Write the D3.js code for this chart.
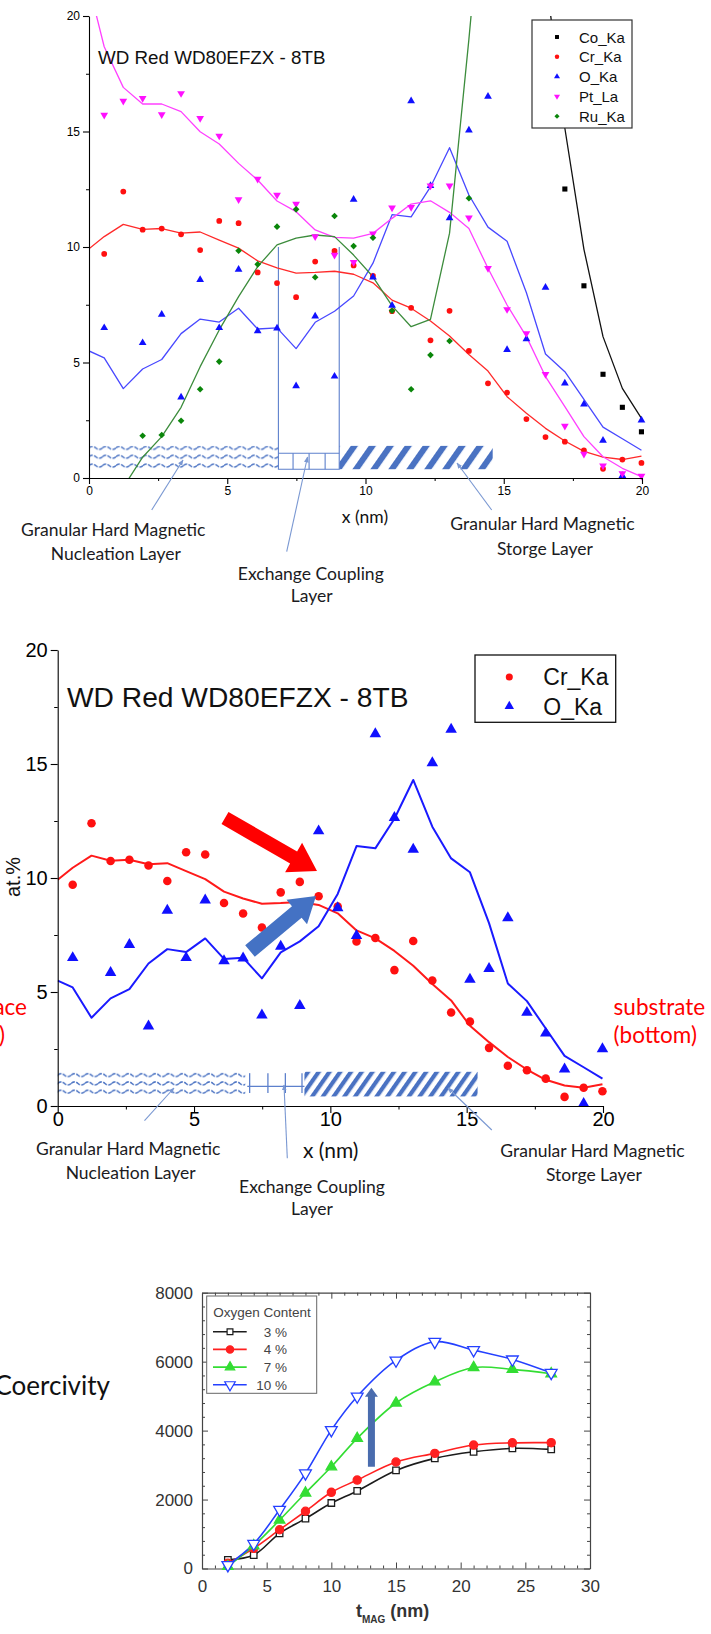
<!DOCTYPE html>
<html>
<head>
<meta charset="utf-8">
<script src="https://cdn.jsdelivr.net/npm/d3@7"></script>
<style>
  body { margin: 0; background: #fff; }
  svg { display: block; }
</style>
</head>
<body>
<svg id="fig" width="711" height="1634"></svg>
<script>
// ---- depth profile data (EDS line scan), shared by the two upper panels ----
const depth = [0.55, 1.24, 1.94, 2.63, 3.33, 4.02, 4.71, 5.41, 6.1, 6.8, 7.49, 8.18, 8.88, 9.57,
  10.27, 10.96, 11.65, 12.35, 13.04, 13.74, 14.43, 15.12, 15.82, 16.51, 17.21, 17.9, 18.59, 19.29, 19.98];
// fitted curves start at x = 0, then follow the sample positions
const fitDepth = [0, 0.55, 1.24, 1.94, 2.63, 3.33, 4.02, 4.71, 5.41, 6.1, 6.8, 7.49, 8.18, 8.88, 9.57,
  10.27, 10.96, 11.65, 12.35, 13.04, 13.74, 14.43, 15.12, 15.82, 16.51, 17.21, 17.9, 18.59, 19.29, 19.98];

const coPts = [null, null, null, null, null, null, null, null, null, null, null, null, null, null, null,
  null, null, null, null, null, null, null, null, null, 12.51, 8.32, 4.49, 3.06, 2.0];
const coFit = [null, null, null, null, null, null, null, null, null, null, null, null, null, null, null,
  null, null, null, null, null, null, null, null, null, 21.8, 15.14, 9.9, 6.12, 3.88, 2.58];

const crPts = [9.7, 12.4, 10.75, 10.8, 10.55, 9.87, 11.13, 11.03, 8.9, 8.44, 7.83, 9.37, 9.83, 9.2,
  8.75, 7.22, 7.37, 5.96, 7.24, 5.5, 4.1, 3.7, 2.55, 1.77, 1.57, 1.2, 0.4, 0.8, 0.65];
const crFit = [9.92, 10.45, 10.98, 10.76, 10.8, 10.6, 10.65, 10.3, 9.95, 9.4, 9.1, 8.87, 8.9, 8.95, 8.82,
  8.45, 7.7, 7.35, 6.8, 6.15, 5.35, 4.63, 3.52, 2.8, 2.15, 1.6, 1.15, 0.9, 0.8, 0.95];

const oPts = [6.5, null, 5.85, 7.08, 3.5, 8.58, 6.5, 9.03, 6.36, 6.48, 3.98, 7.0, 4.4, 12.06,
  8.69, 7.47, 16.32, 12.65, 11.25, 15.05, 16.52, 5.55, 6.02, 8.25, 4.1, 3.19, 1.62, 0.1, 2.5];
const oFit = [5.5, 5.2, 3.87, 4.72, 5.13, 6.25, 6.88, 6.75, 7.35, 6.45, 6.5, 5.6, 6.74, 7.22, 7.88,
  9.3, 11.4, 11.3, 12.6, 14.3, 12.25, 10.86, 10.25, 8.02, 5.37, 4.6, 3.4, 2.2, 1.7, 1.2];

const ptPts = [15.71, 16.32, 16.44, 15.74, 16.65, 15.57, 14.81, 12.06, 12.94, 12.25, 11.86, 10.45, 9.65, 9.34,
  10.57, 11.7, 11.72, 12.65, 12.65, 11.27, 9.08, 7.3, 6.26, 4.49, 2.25, 1.04, 0.53, 0.2, 0.09];
const ptFit = [21.3, 18.67, 16.91, 16.19, 16.19, 15.86, 14.99, 14.46, 13.62, 12.9, 11.99, 11.53, 10.74, 10.42, 10.38,
  10.59, 11.24, 11.86, 12.0, 11.5, 10.8, 9.08, 7.49, 6.12, 4.39, 3.09, 1.79, 0.92, 0.42, 0.06];

const ruPts = [null, null, 1.83, 1.86, 2.48, 3.84, 5.04, 9.84, 9.25, 10.88, 11.63, 8.69, 11.34, 10.04,
  10.4, 7.24, 3.84, 5.32, 5.93, 12.11, null, null, null, null, null, null, null, null, null];
const ruFit = [null, null, -0.4, 0.9, 1.79, 3.06, 4.82, 6.41, 7.85, 9.15, 10.09, 10.38, 10.52, 10.45, 9.65,
  8.71, 7.45, 6.55, 6.87, 10.6, 19.0, 28, null, null, null, null, null, null, null, null];

const depthTicks = [0, 5, 10, 15, 20];
const depthMinor = [2.5, 7.5, 12.5, 17.5];
const layerBounds1 = [0, 6.85, 9.05, 14.6];
const layerBounds2 = [0, 6.88, 9.05, 15.4];

// ---- coercivity vs magnetic layer thickness ----
const tmag = [2, 4, 6, 8, 10, 12, 15, 18, 21, 24, 27];
const hc3 = [250, 390, 1020, 1445, 1900, 2250, 2845, 3195, 3385, 3485, 3455];
const hc4 = [150, 585, 1125, 1660, 2210, 2565, 3090, 3340, 3580, 3645, 3650];
const hc7 = [60, 660, 1405, 2190, 2950, 3775, 4800, 5415, 5830, 5775, 5650];
const hc10 = [100, 715, 1705, 2760, 4015, 4990, 6035, 6575, 6335, 6065, 5675];
const oxygenLabels = ["3 %", "4 %", "7 %", "10 %"];
const hcTicksX = [0, 5, 10, 15, 20, 25, 30];
const hcTicksY = [0, 2000, 4000, 6000, 8000];

const SANS = "'Liberation Sans', Arial, sans-serif";
const CAL = "Lato, 'Open Sans', sans-serif";
const BAND = "#4a72c2";
const NOTE = "#7a98d2";

const svg = d3.select("#fig");
const defs = svg.append("defs");

defs.append("marker")
  .attr("id", "ah")
  .attr("viewBox", "0 0 10 10")
  .attr("refX", 9).attr("refY", 5)
  .attr("markerWidth", 6).attr("markerHeight", 6)
  .attr("markerUnits", "userSpaceOnUse")
  .attr("orient", "auto")
  .append("path").attr("d", "M0,1L10,5L0,9Z").attr("fill", NOTE);

function series(xs, vs) {
  return xs.map((x, i) => ({ x, v: vs[i] }));
}

function blockArrow(tail, tip, shaftW, headW, headL) {
  const dx = tip[0] - tail[0], dy = tip[1] - tail[1];
  const L = Math.hypot(dx, dy);
  const ux = dx / L, uy = dy / L, px = -uy, py = ux;
  const bx = tip[0] - ux * headL, by = tip[1] - uy * headL;
  const pts = [
    [tail[0] + px * shaftW / 2, tail[1] + py * shaftW / 2],
    [bx + px * shaftW / 2, by + py * shaftW / 2],
    [bx + px * headW / 2, by + py * headW / 2],
    tip,
    [bx - px * headW / 2, by - py * headW / 2],
    [bx - px * shaftW / 2, by - py * shaftW / 2],
    [tail[0] - px * shaftW / 2, tail[1] - py * shaftW / 2],
  ];
  return "M" + pts.map((p) => p.join(",")).join("L") + "Z";
}

function styleAxis(g, font, size, color) {
  g.attr("font-family", font).attr("font-size", size);
  g.selectAll("text").attr("fill", color);
  g.selectAll("line").attr("stroke", color);
  g.select(".domain").attr("stroke", color);
}

// patterns for the layer stack sketch
function layerPatterns(id, wave, hatch) {
  const w = defs.append("pattern")
    .attr("id", "wave" + id)
    .attr("patternUnits", "userSpaceOnUse")
    .attr("width", 13.5).attr("height", wave.gap)
    .attr("patternTransform", `translate(${wave.x},${wave.y})`);
  w.append("path")
    .attr("d", `M0,${wave.gap / 2} Q3.375,${wave.gap / 2 - 3} 6.75,${wave.gap / 2} T13.5,${wave.gap / 2}`)
    .attr("fill", "none").attr("stroke", BAND).attr("stroke-width", 1.5)
    .attr("stroke-dasharray", "4 1.5");
  const h = defs.append("pattern")
    .attr("id", "hatch" + id)
    .attr("patternUnits", "userSpaceOnUse")
    .attr("width", hatch.step).attr("height", 10)
    .attr("patternTransform", `translate(${hatch.x},0) rotate(35)`);
  h.append("rect").attr("width", hatch.thick).attr("height", 10).attr("fill", BAND);
}

function depthAxes(g, x, y, o) {
  const ya = g.append("g").attr("transform", `translate(${x(0)},0)`)
    .call(d3.axisLeft(y).tickValues(depthTicks).tickSize(o.tick).tickSizeOuter(0).tickPadding(o.padY));
  styleAxis(ya, SANS, o.font, "#000");
  const ym = g.append("g").attr("transform", `translate(${x(0)},0)`)
    .call(d3.axisLeft(y).tickValues(depthMinor).tickSize(o.tick / 2).tickFormat(() => ""));
  ym.select(".domain").remove();
  ym.selectAll("line").attr("stroke", "#000");
  const xa = g.append("g").attr("transform", `translate(0,${y(0)})`)
    .call(d3.axisBottom(x).tickValues(depthTicks).tickSize(o.tick).tickSizeOuter(0).tickPadding(o.padX));
  styleAxis(xa, SANS, o.font, "#000");
  const xm = g.append("g").attr("transform", `translate(0,${y(0)})`)
    .call(d3.axisBottom(x).tickValues(depthMinor).tickSize(o.tick / 2).tickFormat(() => ""));
  xm.select(".domain").remove();
  xm.selectAll("line").attr("stroke", "#000");
  [ya, xa].forEach((a) => a.selectAll(".domain, line").attr("stroke-width", 1.1));
}

function layerBands(g, x, y, b, top, bottom, id) {
  const yt = y(top), yb = y(bottom);
  g.append("rect").attr("x", x(b[0])).attr("y", yt)
    .attr("width", x(b[1]) - x(b[0])).attr("height", yb - yt).attr("fill", `url(#wave${id})`);
  g.append("rect").attr("x", x(b[2])).attr("y", yt)
    .attr("width", x(b[3]) - x(b[2])).attr("height", yb - yt).attr("fill", `url(#hatch${id})`);
}

function noteArrows(g, list) {
  list.forEach((a) => {
    g.append("line")
      .attr("x1", a.from[0]).attr("y1", a.from[1])
      .attr("x2", a.to[0]).attr("y2", a.to[1])
      .attr("stroke", NOTE).attr("stroke-width", 1.1)
      .attr("marker-end", "url(#ah)");
  });
}

function noteLabels(g, list, size) {
  list.forEach((t) => {
    g.append("text")
      .attr("x", t.x).attr("y", t.y)
      .attr("text-anchor", "middle")
      .attr("font-family", CAL).attr("font-size", size)
      .attr("fill", "#1b1b22")
      .text(t.text);
  });
}

function marks(g, x, y, pts, el, scale) {
  const sym = d3.symbol().type(el.symbol).size(el.size * scale);
  g.append("g").selectAll("path")
    .data(series(depth, pts).filter((d) => d.v != null))
    .join("path")
    .attr("d", sym)
    .attr("transform", (d) => `translate(${x(d.x)},${y(d.v)}) rotate(${el.rot || 0})`)
    .attr("fill", el.color);
}

function fitLine(g, x, y, fit, color, width, clipId) {
  const line = d3.line()
    .defined((d) => d.v != null)
    .x((d) => x(d.x)).y((d) => y(d.v));
  g.append("path")
    .datum(series(fitDepth, fit))
    .attr("d", line)
    .attr("fill", "none")
    .attr("stroke", color)
    .attr("stroke-width", width)
    .attr("stroke-linejoin", "round")
    .attr("clip-path", `url(#${clipId})`);
}

const elements = [
  { name: "Co_Ka", pts: coPts, fit: coFit, color: "#000", line: "#111", symbol: d3.symbolSquare, size: 26 },
  { name: "Cr_Ka", pts: crPts, fit: crFit, color: "#ff1010", line: "#ff2a2a", symbol: d3.symbolCircle, size: 26 },
  { name: "O_Ka", pts: oPts, fit: oFit, color: "#1010ff", line: "#4848ff", symbol: d3.symbolTriangle, size: 26 },
  { name: "Pt_La", pts: ptPts, fit: ptFit, color: "#ff10ff", line: "#ff40ff", symbol: d3.symbolTriangle, size: 26, rot: 180 },
  { name: "Ru_Ka", pts: ruPts, fit: ruFit, color: "#0a860a", line: "#3c8c3c", symbol: d3.symbolSquare, size: 22, rot: 45 },
];

// =================== panel 1: all elements ===================
{
  const x = d3.scaleLinear([0, 20], [89, 642]);
  const y = d3.scaleLinear([0, 20], [478, 16]);
  const g = svg.append("g");
  defs.append("clipPath").attr("id", "clip1").append("rect")
    .attr("x", x(0)).attr("y", y(20)).attr("width", x(20) - x(0)).attr("height", y(0) - y(20));

  layerPatterns(1, { x: 89, y: 443.5, gap: 8.85 }, { x: 340, step: 14.7, thick: 6 });
  layerBands(g, x, y, layerBounds1, 1.39, 0.38, 1);

  // exchange coupling layer outline
  const ex = g.append("g").attr("stroke", "#5d80cc").attr("stroke-width", 1.1).attr("fill", "none");
  const xl = x(layerBounds1[1]), xr = x(layerBounds1[2]);
  ex.append("path").attr("d", `M${xl},${y(10)}V${y(0.38)}H${xr}V${y(10)}`);
  ex.append("path").attr("d", `M${xl},${y(1.07)}H${xr}`);
  [7.38, 7.96, 8.54].forEach((v) =>
    ex.append("path").attr("d", `M${x(v)},${y(1.07)}V${y(0.38)}`));

  elements.forEach((el) => fitLine(g, x, y, el.fit, el.line, 1.3, "clip1"));
  elements.forEach((el) => marks(g, x, y, el.pts, el, 1));

  depthAxes(g, x, y, { tick: 6, font: 12, padY: 3, padX: 2.5 });

  g.append("text").attr("x", 365).attr("y", 523).attr("text-anchor", "middle")
    .attr("font-family", CAL).attr("font-size", 17.5).attr("fill", "#111").text("x (nm)");

  g.append("text").attr("x", 98).attr("y", 64)
    .attr("font-family", SANS).attr("font-size", 18.8).attr("fill", "#111")
    .text("WD Red WD80EFZX - 8TB");

  // legend
  const lg = g.append("g");
  lg.append("rect").attr("x", 532).attr("y", 20).attr("width", 100).attr("height", 108)
    .attr("fill", "#fff").attr("stroke", "#333").attr("stroke-width", 1.2);
  elements.forEach((el, i) => {
    const cy = 37 + i * 19.8;
    lg.append("path")
      .attr("d", d3.symbol().type(el.symbol).size(el.size * 0.6))
      .attr("transform", `translate(557,${cy}) rotate(${el.rot || 0})`)
      .attr("fill", el.color);
    lg.append("text").attr("x", 579).attr("y", cy + 5.5)
      .attr("font-family", SANS).attr("font-size", 15).attr("fill", "#111").text(el.name);
  });

  noteArrows(g, [
    { from: [151.7, 510], to: [183, 460] },
    { from: [286.7, 551.7], to: [307.5, 457] },
    { from: [491.7, 510], to: [457, 463] },
  ]);
  noteLabels(g, [
    { x: 113.3, y: 536, text: "Granular Hard Magnetic" },
    { x: 115.8, y: 560, text: "Nucleation Layer" },
    { x: 310.8, y: 580, text: "Exchange Coupling" },
    { x: 311.7, y: 602, text: "Layer" },
    { x: 542.5, y: 530, text: "Granular Hard Magnetic" },
    { x: 545, y: 555, text: "Storge Layer" },
  ], 17.5);
}

// =================== panel 2: Cr and O only ===================
{
  const x = d3.scaleLinear([0, 20], [57.7, 603]);
  const y = d3.scaleLinear([0, 20], [1106, 650]);
  const g = svg.append("g");
  defs.append("clipPath").attr("id", "clip2").append("rect")
    .attr("x", x(0)).attr("y", y(20)).attr("width", x(20) - x(0)).attr("height", y(0) - y(20));

  layerPatterns(2, { x: 57.7, y: 1071, gap: 8.3 }, { x: 304, step: 8.8, thick: 4.2 });
  layerBands(g, x, y, layerBounds2, 1.5, 0.42, 2);

  const ex = g.append("g").attr("stroke", "#5d80cc").attr("stroke-width", 1.3).attr("fill", "none");
  ex.append("path").attr("d", `M${x(layerBounds2[1]) + 2},${y(0.86)}H${x(layerBounds2[2])}`);
  [7.04, 7.71, 8.35, 8.96].forEach((v) =>
    ex.append("path").attr("d", `M${x(v)},${y(1.44)}V${y(0.57)}`));

  const two = [elements[1], elements[2]];
  two.forEach((el) => fitLine(g, x, y, el.fit, el.color === "#1010ff" ? "#1a1aff" : "#ff1a1a", 2, "clip2"));
  two.forEach((el) => marks(g, x, y, el.pts, el, 2.2));

  depthAxes(g, x, y, { tick: 7, font: 20, padY: 3, padX: -1 });

  g.append("text").attr("transform", "translate(20,877) rotate(-90)")
    .attr("text-anchor", "middle").attr("font-family", SANS).attr("font-size", 20)
    .attr("fill", "#111").text("at.%");

  g.append("text").attr("x", 330.7).attr("y", 1158).attr("text-anchor", "middle")
    .attr("font-family", CAL).attr("font-size", 21).attr("fill", "#111").text("x (nm)");

  g.append("text").attr("x", 67).attr("y", 706.7)
    .attr("font-family", SANS).attr("font-size", 28.2).attr("fill", "#111")
    .text("WD Red WD80EFZX - 8TB");

  // the two highlight arrows
  g.append("path").attr("d", blockArrow([225, 818], [317, 871], 14, 34, 27)).attr("fill", "#ff0000");
  g.append("path").attr("d", blockArrow([250, 951], [316, 896], 15, 32, 25)).attr("fill", "#4472c4");

  const lg = g.append("g");
  lg.append("rect").attr("x", 475).attr("y", 655).attr("width", 140.7).attr("height", 67.3)
    .attr("fill", "#fff").attr("stroke", "#111").attr("stroke-width", 1.3);
  two.forEach((el, i) => {
    const cy = 677 + i * 29.3;
    lg.append("path")
      .attr("d", d3.symbol().type(el.symbol).size(el.size * 1.5))
      .attr("transform", `translate(509.3,${cy})`)
      .attr("fill", el.color);
    lg.append("text").attr("x", 543.3).attr("y", cy + 8.3)
      .attr("font-family", SANS).attr("font-size", 23).attr("fill", "#111").text(el.name);
  });

  // side notes, partly outside the picture as in the source slide
  const side = [
    { x: 27, y: 1015, anchor: "end", text: "surface" },
    { x: 5, y: 1043, anchor: "end", text: "(top)" },
    { x: 613.6, y: 1015, anchor: "start", text: "substrate" },
    { x: 613.6, y: 1043, anchor: "start", text: "(bottom)" },
  ];
  side.forEach((t) => g.append("text").attr("x", t.x).attr("y", t.y)
    .attr("text-anchor", t.anchor).attr("font-family", CAL).attr("font-size", 22.5)
    .attr("fill", "#ff0000").text(t.text));

  noteArrows(g, [
    { from: [144.5, 1120.7], to: [174, 1088] },
    { from: [287.3, 1158.3], to: [284, 1085] },
    { from: [491.8, 1130], to: [448, 1088] },
  ]);
  noteLabels(g, [
    { x: 128.2, y: 1155, text: "Granular Hard Magnetic" },
    { x: 130.7, y: 1179.3, text: "Nucleation Layer" },
    { x: 312, y: 1193, text: "Exchange Coupling" },
    { x: 312, y: 1215, text: "Layer" },
    { x: 592.5, y: 1156.7, text: "Granular Hard Magnetic" },
    { x: 594, y: 1180.7, text: "Storge Layer" },
  ], 17.5);
}

// =================== panel 3: coercivity ===================
{
  const x = d3.scaleLinear([0, 30], [202, 590]);
  const y = d3.scaleLinear([0, 8000], [1568.5, 1292.7]);
  const g = svg.append("g");
  const frame = "#444";

  g.append("text").attr("x", 110).attr("y", 1395).attr("text-anchor", "end")
    .attr("font-family", CAL).attr("font-size", 26).attr("fill", "#111").text("Coercivity");

  const minorX = d3.range(0, 31, 1).filter((v) => v % 5 !== 0);
  const minorY = d3.range(0, 8001, 400).filter((v) => v % 2000 !== 0);

  const axB = g.append("g").attr("transform", `translate(0,${y(0)})`)
    .call(d3.axisBottom(x).tickValues(hcTicksX).tickSize(-6).tickSizeOuter(0).tickPadding(11.5));
  styleAxis(axB, SANS, 17, "#333");
  const axL = g.append("g").attr("transform", `translate(${x(0)},0)`)
    .call(d3.axisLeft(y).tickValues(hcTicksY).tickFormat(d3.format("d"))
      .tickSize(-6).tickSizeOuter(0).tickPadding(9));
  styleAxis(axL, SANS, 17, "#333");
  const axT = g.append("g").attr("transform", `translate(0,${y(8000)})`)
    .call(d3.axisTop(x).tickValues(hcTicksX).tickSize(-6).tickSizeOuter(0).tickFormat(() => ""));
  const axR = g.append("g").attr("transform", `translate(${x(30)},0)`)
    .call(d3.axisRight(y).tickValues(hcTicksY).tickSize(-6).tickSizeOuter(0).tickFormat(() => ""));
  [
    [d3.axisBottom(x), y(0), minorX, "x"],
    [d3.axisTop(x), y(8000), minorX, "x"],
    [d3.axisLeft(y), x(0), minorY, "y"],
    [d3.axisRight(y), x(30), minorY, "y"],
  ].forEach(([ax, pos, vals, dir]) => {
    const m = g.append("g")
      .attr("transform", dir === "x" ? `translate(0,${pos})` : `translate(${pos},0)`)
      .call(ax.tickValues(vals).tickSize(-3).tickFormat(() => ""));
    m.select(".domain").remove();
    m.selectAll("line").attr("stroke", frame);
  });
  [axB, axL, axT, axR].forEach((a) => {
    a.selectAll("line").attr("stroke", frame);
    a.select(".domain").attr("stroke", frame).attr("stroke-width", 1.2);
  });

  const sets = [
    { vals: hc3, color: "#1c1c1c", symbol: d3.symbolSquare, size: 42, open: true },
    { vals: hc4, color: "#ff2020", symbol: d3.symbolCircle, size: 52, open: false },
    { vals: hc7, color: "#33dd33", symbol: d3.symbolTriangle, size: 48, open: false },
    { vals: hc10, color: "#2440ff", symbol: d3.symbolTriangle, size: 60, open: true, rot: 180 },
  ];
  const line = d3.line().x((d) => x(d.x)).y((d) => y(d.v)).curve(d3.curveCatmullRom.alpha(0.5));
  sets.forEach((s) => {
    g.append("path").datum(series(tmag, s.vals)).attr("d", line)
      .attr("fill", "none").attr("stroke", s.color).attr("stroke-width", 1.6);
  });
  sets.forEach((s) => {
    g.append("g").selectAll("path").data(series(tmag, s.vals)).join("path")
      .attr("d", d3.symbol().type(s.symbol).size(s.size))
      .attr("transform", (d) => `translate(${x(d.x)},${y(d.v)}) rotate(${s.rot || 0})`)
      .attr("fill", s.open ? "#fff" : s.color)
      .attr("stroke", s.color).attr("stroke-width", 1.3);
  });

  // arrow: increasing oxygen content
  g.append("path")
    .attr("d", blockArrow([x(13.1), y(2950)], [x(13.1), y(5240)], 7, 13, 9))
    .attr("fill", "#4a6cae");

  // legend
  const lg = g.append("g");
  lg.append("rect").attr("x", 206.7).attr("y", 1296).attr("width", 110).attr("height", 97.3)
    .attr("fill", "#fff").attr("stroke", "#666").attr("stroke-width", 1);
  lg.append("text").attr("x", 213.3).attr("y", 1317).attr("font-family", SANS)
    .attr("font-size", 13.5).attr("fill", "#444").text("Oxygen Content");
  sets.forEach((s, i) => {
    const cy = 1331.7 + i * 17.7;
    lg.append("line").attr("x1", 213).attr("x2", 246.7).attr("y1", cy).attr("y2", cy)
      .attr("stroke", s.color).attr("stroke-width", 1.6);
    lg.append("path").attr("d", d3.symbol().type(s.symbol).size(s.size * 0.8))
      .attr("transform", `translate(230,${cy}) rotate(${s.rot || 0})`)
      .attr("fill", s.open ? "#fff" : s.color).attr("stroke", s.color).attr("stroke-width", 1.2);
    lg.append("text").attr("x", 287).attr("y", cy + 5).attr("text-anchor", "end")
      .attr("font-family", SANS).attr("font-size", 13.5).attr("fill", "#444").text(oxygenLabels[i]);
  });

  const title = g.append("text").attr("x", 356).attr("y", 1617)
    .attr("font-family", SANS).attr("font-size", 18).attr("font-weight", "bold").attr("fill", "#333");
  title.append("tspan").text("t");
  title.append("tspan").attr("dy", 6).attr("font-size", 10).text("MAG");
  title.append("tspan").attr("dy", -6).text(" (nm)");
}
</script>
</body>
</html>
